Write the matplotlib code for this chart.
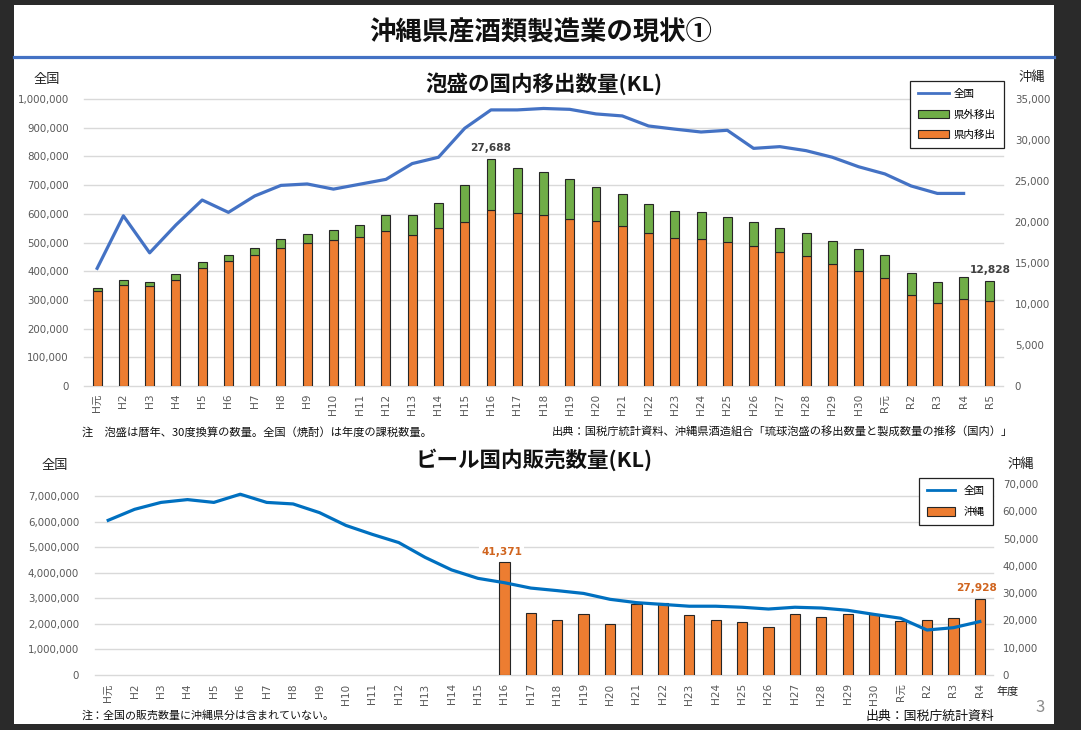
import matplotlib
matplotlib.use("Agg")
import matplotlib.pyplot as plt  # noqa: E402
import numpy as np  # noqa: E402
from matplotlib.lines import Line2D  # noqa: E402
from matplotlib.patches import Patch, Rectangle  # noqa: E402
from matplotlib.ticker import FuncFormatter, MultipleLocator  # noqa: E402
from matplotlib.transforms import blended_transform_factory  # noqa: E402

JP = ["Noto Sans CJK JP", "DejaVu Sans"]
NUM = ["DejaVu Sans", "Noto Sans CJK JP"]
plt.rcParams["font.family"] = JP

ORANGE, GREEN = "#ED7D31", "#70AD47"
BLUE_TOP, BLUE_BOT = "#4472C4", "#0070C0"
GRID, TICK = "#D9D9D9", "#595959"
EDGE = "#262626"

# ── data ─────────────────────────────────────────────────────────────────────
awamori_years = ["H元", "H2", "H3", "H4", "H5", "H6", "H7", "H8", "H9", "H10",
                 "H11", "H12", "H13", "H14", "H15", "H16", "H17", "H18", "H19",
                 "H20", "H21", "H22", "H23", "H24", "H25", "H26", "H27", "H28",
                 "H29", "H30", "R元", "R2", "R3", "R4", "R5"]
# 沖縄 (KL): 県内移出 + 県外移出
kennai = [11560, 12370, 12200, 12980, 14360, 15200, 15980, 16870, 17440, 17800,
          18170, 18940, 18450, 19300, 20030, 21410, 21090, 20880, 20400, 20110,
          19550, 18690, 18050, 17920, 17520, 17030, 16340, 15860, 14880, 13990,
          13180, 11060, 10080, 10570, 10330]
kengai = [440, 610, 540, 720, 810, 780, 890, 1090, 1130, 1260,
          1500, 1860, 2350, 3000, 4470, 6278, 5550, 5190, 4900, 4180,
          3850, 3490, 3240, 3250, 3120, 2960, 2880, 2790, 2800, 2760,
          2810, 2780, 2570, 2700, 2498]
# 全国 焼酎 (KL)
shochu_national = [410000, 593000, 464000, 561000, 648000, 605000, 662000,
                   699000, 704000, 686000, 703000, 720000, 775000, 797000,
                   898000, 962000, 962000, 967000, 964000, 948000, 941000,
                   906000, 895000, 885000, 891000, 828000, 834000, 820000,
                   797000, 764000, 739000, 697000, 671000, 671000, np.nan]
awamori_labelled = ["H16", "R5"]

beer_years = ["H元", "H2", "H3", "H4", "H5", "H6", "H7", "H8", "H9", "H10",
              "H11", "H12", "H13", "H14", "H15", "H16", "H17", "H18", "H19",
              "H20", "H21", "H22", "H23", "H24", "H25", "H26", "H27", "H28",
              "H29", "H30", "R元", "R2", "R3", "R4"]
beer_national = [6050000, 6480000, 6750000, 6860000, 6750000, 7070000, 6750000,
                 6690000, 6350000, 5850000, 5500000, 5180000, 4600000, 4110000,
                 3780000, 3610000, 3400000, 3300000, 3190000, 2960000, 2830000,
                 2760000, 2690000, 2690000, 2650000, 2580000, 2650000, 2620000,
                 2530000, 2370000, 2220000, 1760000, 1850000, 2090000]
beer_okinawa = [np.nan] * 15 + [41371, 22600, 20160, 22200, 18570, 25900,
                                26400, 22000, 20300, 19400, 17500, 22200,
                                21400, 22200, 22200, 19700, 20000, 20800, 27928]
beer_labelled = ["H16", "R4"]

# ── page ─────────────────────────────────────────────────────────────────────
W, H = 1081, 730


def box(left, top, right, bottom):
    return [left / W, 1 - bottom / H, (right - left) / W, (bottom - top) / H]


def fx(px):
    return px / W


def fy(py):
    return 1 - py / H


fig = plt.figure(figsize=(W / 100, H / 100), dpi=100, facecolor="#2A2A2A")
fig.patches.append(Rectangle((fx(14), fy(724)), fx(1054 - 14), (724 - 5) / H,
                             transform=fig.transFigure, facecolor="white",
                             edgecolor="none", zorder=-10))
fig.add_artist(Line2D([fx(14), fx(1054)], [fy(57), fy(57)], color=BLUE_TOP,
                      lw=2.3))
fig.text(fx(541), fy(33), "沖縄県産酒類製造業の現状①", ha="center", va="center",
         fontsize=19, fontweight="bold", color="#111111")

thousands = FuncFormatter(lambda v, _: f"{v:,.0f}")


def style_axes(ax_bar, ax_line, years, lpad, rpad):
    x = np.arange(len(years))
    ax_bar.set_xlim(-0.5, len(years) - 0.5)
    ax_bar.set_xticks(x)
    ax_bar.set_xticklabels(years, rotation=90, fontsize=7.6, color=TICK,
                           family=NUM)
    ax_bar.tick_params(axis="x", length=0, pad=5.5)
    ax_bar.yaxis.tick_right()
    ax_bar.tick_params(axis="y", length=0, pad=rpad, labelsize=7.4,
                       labelcolor=TICK)
    ax_line.tick_params(axis="y", length=0, pad=lpad, labelsize=7.4,
                        labelcolor=TICK)
    for a in (ax_bar, ax_line):
        for s in a.spines.values():
            s.set_visible(False)
        a.yaxis.set_major_formatter(thousands)
        for lab in a.get_yticklabels():
            lab.set_family(NUM)
    ax_line.patch.set_visible(False)
    # gridlines follow the left (全国) ticks, drawn behind the bars
    tr = blended_transform_factory(ax_bar.transAxes, ax_line.transData)
    lo, hi = ax_line.get_ylim()
    for t in ax_line.get_yticks():
        if lo <= t <= hi:
            ax_bar.plot([0, 1], [t, t], transform=tr, color=GRID, lw=1.0,
                        zorder=0, clip_on=False)
    return x


# ── 泡盛 ─────────────────────────────────────────────────────────────────────
ax1 = fig.add_axes(box(84, 99, 1003, 386))
ax1l = ax1.twinx()
ax1l.yaxis.tick_left()
ax1.set_ylim(0, 35000)
ax1.yaxis.set_major_locator(MultipleLocator(5000))
ax1l.set_ylim(0, 1000000)
ax1l.yaxis.set_major_locator(MultipleLocator(100000))
x1 = style_axes(ax1, ax1l, awamori_years, lpad=11, rpad=8.5)

ax1.bar(x1, kennai, width=0.34, color=ORANGE, edgecolor=EDGE, lw=0.8,
        zorder=2)
ax1.bar(x1, kengai, width=0.34, bottom=kennai, color=GREEN, edgecolor=EDGE,
        lw=0.8, zorder=2)
ax1l.plot(x1, shochu_national, color=BLUE_TOP, lw=2.3, solid_joinstyle="round")
ax1.set_ylim(0, 35000)
for yr in awamori_labelled:
    i = awamori_years.index(yr)
    tot = kennai[i] + kengai[i]
    ax1.annotate(f"{tot:,}", xy=(i, tot), xytext=(0, 4),
                 textcoords="offset points", ha="center", va="bottom",
                 fontsize=7.6, fontweight="bold", color="#404040", family=NUM,
                 zorder=5)

fig.text(fx(544), fy(84), "泡盛の国内移出数量(KL)", ha="center", va="center",
         fontsize=15.5, fontweight="bold", color="#111111")
fig.text(fx(47), fy(79), "全国", ha="center", va="center", fontsize=9.5,
         color="#222222")
fig.text(fx(1032), fy(77), "沖縄", ha="center", va="center", fontsize=9.5,
         color="#222222")
leg1 = fig.legend(
    handles=[Line2D([], [], color=BLUE_TOP, lw=2),
             Patch(facecolor=GREEN, edgecolor=EDGE, lw=0.8),
             Patch(facecolor=ORANGE, edgecolor=EDGE, lw=0.8)],
    labels=["全国", "県外移出", "県内移出"], loc="upper left",
    bbox_to_anchor=(fx(910), fy(81)), fontsize=7.6, frameon=True,
    fancybox=False, edgecolor="#222222", framealpha=1, borderpad=0.8,
    labelspacing=0.95, handlelength=2.9, handleheight=0.9, handletextpad=0.4,
    borderaxespad=0)
leg1.get_frame().set_linewidth(0.9)

fig.text(fx(82), fy(432), "注　泡盛は暦年、30度換算の数量。全国（焼酎）は年度の課税数量。",
         ha="left", va="center", fontsize=8.1, color="#111111")
fig.text(fx(1013), fy(432),
         "出典：国税庁統計資料、沖縄県酒造組合「琉球泡盛の移出数量と製成数量の推移（国内）」",
         ha="right", va="center", fontsize=8.1, color="#111111")

# ── ビール ───────────────────────────────────────────────────────────────────
ax2 = fig.add_axes(box(95, 484, 993, 675))
ax2l = ax2.twinx()
ax2l.yaxis.tick_left()
ax2.set_ylim(0, 70000)
ax2.yaxis.set_major_locator(MultipleLocator(10000))
ax2l.set_ylim(0, 7470000)
ax2l.yaxis.set_major_locator(MultipleLocator(1000000))
x2 = style_axes(ax2, ax2l, beer_years, lpad=11.5, rpad=7)
ax2.tick_params(axis="x", pad=6)

ax2.bar(x2, beer_okinawa, width=0.39, color=ORANGE, edgecolor=EDGE, lw=0.8,
        zorder=2)
ax2l.plot(x2, beer_national, color=BLUE_BOT, lw=2.3, solid_joinstyle="round")
ax2.set_ylim(0, 70000)
for yr in beer_labelled:
    i = beer_years.index(yr)
    v = beer_okinawa[i]
    ax2.annotate(f"{v:,}", xy=(i, v), xytext=(-2, 4),
                 textcoords="offset points", ha="center", va="bottom",
                 fontsize=7.6, fontweight="bold", color="#D0641E", family=NUM,
                 zorder=5, bbox=dict(facecolor="white", edgecolor="none",
                                     pad=1.5))

fig.text(fx(534), fy(460), "ビール国内販売数量(KL)", ha="center", va="center",
         fontsize=15.5, fontweight="bold", color="#111111")
fig.text(fx(55), fy(465), "全国", ha="center", va="center", fontsize=9.5,
         color="#222222")
fig.text(fx(1021), fy(464), "沖縄", ha="center", va="center", fontsize=9.5,
         color="#222222")
leg2 = fig.legend(
    handles=[Line2D([], [], color=BLUE_BOT, lw=2),
             Patch(facecolor=ORANGE, edgecolor=EDGE, lw=0.8)],
    labels=["全国", "沖縄"], loc="upper left",
    bbox_to_anchor=(fx(919), fy(478)), fontsize=7.6, frameon=True,
    fancybox=False, edgecolor="#222222", framealpha=1, borderpad=0.8,
    labelspacing=1.0, handlelength=2.6, handleheight=0.9, handletextpad=0.8,
    borderaxespad=0)
leg2.get_frame().set_linewidth(0.9)

fig.text(fx(1008), fy(692), "年度", ha="center", va="center", fontsize=8,
         color="#222222")
fig.text(fx(1040), fy(707), "3", ha="center", va="center", fontsize=12,
         color="#8C8C8C")
fig.text(fx(82), fy(715), "注：全国の販売数量に沖縄県分は含まれていない。",
         ha="left", va="center", fontsize=7.9, color="#111111")
fig.text(fx(994), fy(716), "出典：国税庁統計資料", ha="right", va="center",
         fontsize=9.3, color="#111111")

fig.savefig("out.png", dpi=100, facecolor=fig.get_facecolor())
